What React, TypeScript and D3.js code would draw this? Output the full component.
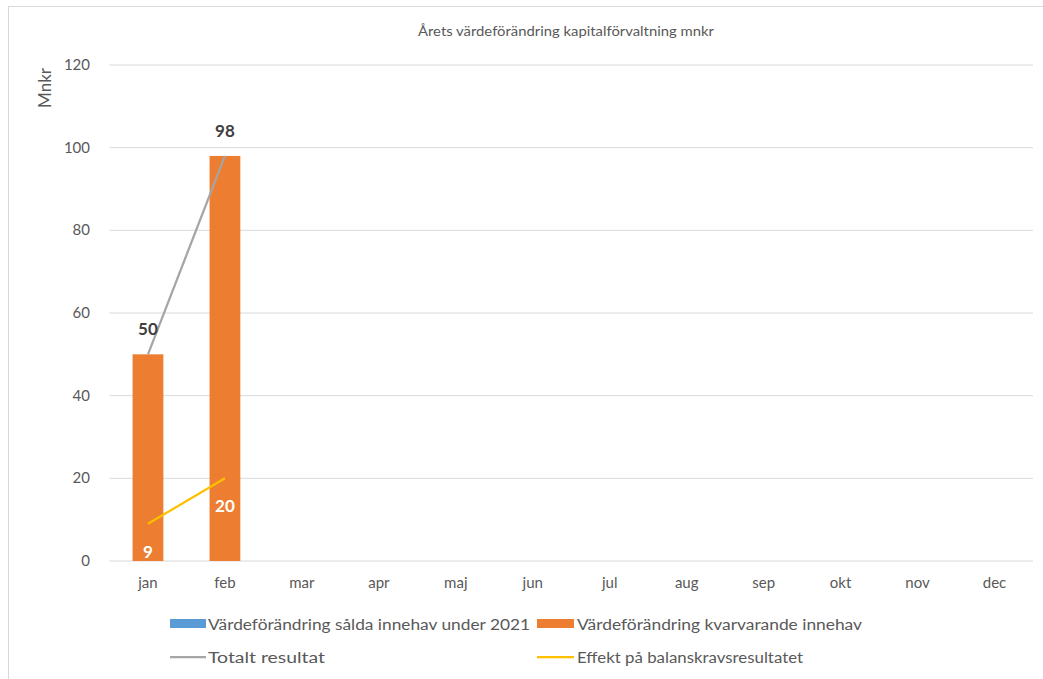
import React from "react";
import * as d3 from "d3";

const months = ["jan", "feb", "mar", "apr", "maj", "jun", "jul", "aug", "sep", "okt", "nov", "dec"];
const soldaInnehav: (number | null)[] = [0, 0, null, null, null, null, null, null, null, null, null, null];
const kvarvarandeInnehav: (number | null)[] = [50, 98, null, null, null, null, null, null, null, null, null, null];
const totaltResultat: (number | null)[] = [50, 98, null, null, null, null, null, null, null, null, null, null];
const effektBalanskrav: (number | null)[] = [9, 20, null, null, null, null, null, null, null, null, null, null];
const yTicks = [0, 20, 40, 60, 80, 100, 120];

const W = 1043;
const H = 679;
const FONT = "Lato, 'Open Sans', sans-serif";
const TXT = "#595959";

export default function App() {
  const x = d3.scaleBand<string>().domain(months).range([109.5, 1033]).paddingInner(0.6).paddingOuter(0.3);
  const xc = (m: string) => (x(m) as number) + x.bandwidth() / 2;
  const y = d3.scaleLinear().domain([0, 120]).range([561, 65]);

  const line = d3
    .line<number | null>()
    .defined((d) => d !== null)
    .x((_, i) => xc(months[i]))
    .y((d) => y(d as number));

  return (
    <svg width={W} height={H} style={{ position: "absolute", left: 0, top: 0 }} fontFamily={FONT}>
      <rect x={0} y={0} width={W} height={H} fill="#fff" />
      <rect x={8.5} y={6.5} width={W + 10} height={H + 10} fill="none" stroke="#d9d9d9" strokeWidth={1} />
      <text x={566} y={36} textAnchor="middle" fontSize={14} fill={TXT} textLength={296} lengthAdjust="spacingAndGlyphs">
        Årets värdeförändring kapitalförvaltning mnkr
      </text>
      <text transform="translate(51,88) rotate(-90)" textAnchor="middle" fontSize={17} fill={TXT}>
        Mnkr
      </text>
      {yTicks.map((t) => (
        <g key={t}>
          <line x1={109.5} x2={1033} y1={y(t)} y2={y(t)} stroke="#d9d9d9" strokeWidth={1} />
          <text x={90} y={y(t) + 5} textAnchor="end" fontSize={15} fill={TXT}>
            {t}
          </text>
        </g>
      ))}
      {months.map((m) => (
        <text key={m} x={xc(m)} y={588} textAnchor="middle" fontSize={15} fill={TXT}>
          {m}
        </text>
      ))}
      {kvarvarandeInnehav.map((v, i) =>
        v === null ? null : (
          <rect
            key={i}
            x={x(months[i]) as number}
            y={y(v)}
            width={x.bandwidth()}
            height={y(0) - y(v)}
            fill="#ED7D31"
          />
        )
      )}
      {soldaInnehav.map((v, i) =>
        v === null || v === 0 ? null : (
          <rect key={i} x={x(months[i]) as number} y={y(v)} width={x.bandwidth()} height={y(0) - y(v)} fill="#5B9BD5" />
        )
      )}
      <path d={line(totaltResultat) || ""} fill="none" stroke="#A5A5A5" strokeWidth={2.25} />
      <path d={line(effektBalanskrav) || ""} fill="none" stroke="#FFC000" strokeWidth={2.25} />
      {totaltResultat.map((v, i) =>
        v === null ? null : (
          <text key={i} x={xc(months[i])} y={y(v) - 19} textAnchor="middle" fontSize={17} fontWeight="bold" fill="#404040">
            {v}
          </text>
        )
      )}
      {effektBalanskrav.map((v, i) =>
        v === null ? null : (
          <text key={i} x={xc(months[i])} y={y(v) + 34} textAnchor="middle" fontSize={17} fontWeight="bold" fill="#fff">
            {v}
          </text>
        )
      )}
      {/* legend */}
      <rect x={170} y={619} width={36} height={9} fill="#5B9BD5" />
      <text x={208} y={630} fontSize={15.5} fill={TXT} textLength={322} lengthAdjust="spacingAndGlyphs">Värdeförändring sålda innehav under 2021</text>
      <rect x={537} y={619} width={37} height={9} fill="#ED7D31" />
      <text x={577} y={630} fontSize={15.5} fill={TXT} textLength={285} lengthAdjust="spacingAndGlyphs">Värdeförändring kvarvarande innehav</text>
      <line x1={170} x2={206} y1={657} y2={657} stroke="#A5A5A5" strokeWidth={2.25} />
      <text x={208} y={663} fontSize={15.5} fill={TXT} textLength={117} lengthAdjust="spacingAndGlyphs">Totalt resultat</text>
      <line x1={537} x2={574} y1={657} y2={657} stroke="#FFC000" strokeWidth={2.25} />
      <text x={577} y={663} fontSize={15.5} fill={TXT} textLength={226} lengthAdjust="spacingAndGlyphs">Effekt på balanskravsresultatet</text>
    </svg>
  );
}
